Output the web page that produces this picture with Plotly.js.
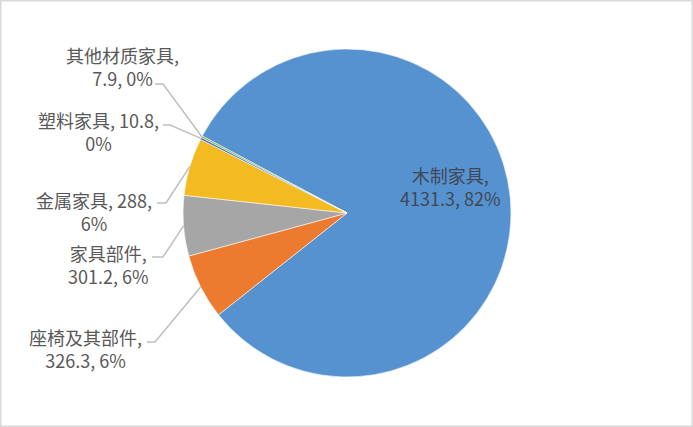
<!DOCTYPE html>
<html>
<head>
<meta charset="utf-8">
<script src="https://cdn.plot.ly/plotly-3.0.1.min.js"></script>
<style>
  html, body { margin: 0; padding: 0; background: #fff; }
  #chart { width: 693px; height: 427px; }
</style>
</head>
<body>
<div id="chart"></div>
<script>
// data
const categories = ['木制家具', '座椅及其部件', '家具部件', '金属家具', '塑料家具', '其他材质家具'];
const values = [4131.3, 326.3, 301.2, 288, 10.8, 7.9];
const colors = ['#5692D0', '#EC7A2F', '#A6A6A6', '#F3BA21', '#4472C4', '#70AD47'];

// label placement (pixels), kept apart from the data
const labelX = [450, 85, 108, 94, 98, 122.5];
const labelY = [186.5, 348.5, 264, 211, 131.5, 67];
const breakAfter = ['name', 'name', 'name', 'value', 'value', 'name'];
const leaderFrom = [null, [147, 342, 155], [152, 257, 163], [157, 203, 166], [163, 125, 170], [155, 84, 163]];

const W = 693, H = 427;
const rotation = 298;
const domX = [0.2641, 0.7374], domY = [0.1171, 0.8852];

const px = x => x / W;
const py = y => 1 - y / H;

const total = values.reduce((a, b) => a + b, 0);
const cx = W * (domX[0] + domX[1]) / 2;
const cy = H * (1 - (domY[0] + domY[1]) / 2);
const r = Math.min(W * (domX[1] - domX[0]), H * (domY[1] - domY[0])) / 2;

const annotations = [];
const shapes = [];
let cum = 0;
categories.forEach((name, i) => {
  const v = values[i];
  const pct = Math.round(v / total * 100) + '%';
  const text = breakAfter[i] === 'name'
    ? `${name},<br>${v}, ${pct}`
    : `${name}, ${v},<br>${pct}`;
  annotations.push({
    x: px(labelX[i]), y: py(labelY[i]), xref: 'paper', yref: 'paper',
    xanchor: 'center', yanchor: 'middle', align: 'center', showarrow: false,
    text: text,
    font: { family: '"Noto Sans CJK SC", sans-serif', size: 18, color: i === 0 ? '#404855' : '#595959' }
  });

  // leader line from the label to the middle of the slice's rim
  const mid = (rotation + 360 * (cum + v / 2) / total) * Math.PI / 180;
  cum += v;
  if (leaderFrom[i]) {
    const [sx, sy, ex] = leaderFrom[i];
    const tx = cx + r * Math.sin(mid), ty = cy - r * Math.cos(mid);
    shapes.push({
      type: 'path', xref: 'paper', yref: 'paper',
      path: `M ${px(sx)} ${py(sy)} L ${px(ex)} ${py(sy)} L ${px(tx)} ${py(ty)}`,
      line: { color: '#bfbfbf', width: 1.5 }
    });
  }
});

// chart frame
shapes.push({
  type: 'rect', xref: 'paper', yref: 'paper', x0: 0, x1: 1, y0: 0, y1: 1,
  line: { color: '#d9d9d9', width: 3 }
});

const trace = {
  type: 'pie',
  labels: categories,
  values: values,
  sort: false,
  direction: 'clockwise',
  rotation: rotation,
  textinfo: 'none',
  hoverinfo: 'label+value+percent',
  marker: { colors: colors, line: { color: 'rgba(255,255,255,0.7)', width: 0.8 } },
  domain: { x: domX, y: domY }
};

const layout = {
  width: W, height: H,
  margin: { l: 0, r: 0, t: 0, b: 0 },
  paper_bgcolor: 'white',
  showlegend: false,
  annotations: annotations,
  shapes: shapes
};

Plotly.newPlot('chart', [trace], layout, { displayModeBar: false, staticPlot: true });
</script>
</body>
</html>
